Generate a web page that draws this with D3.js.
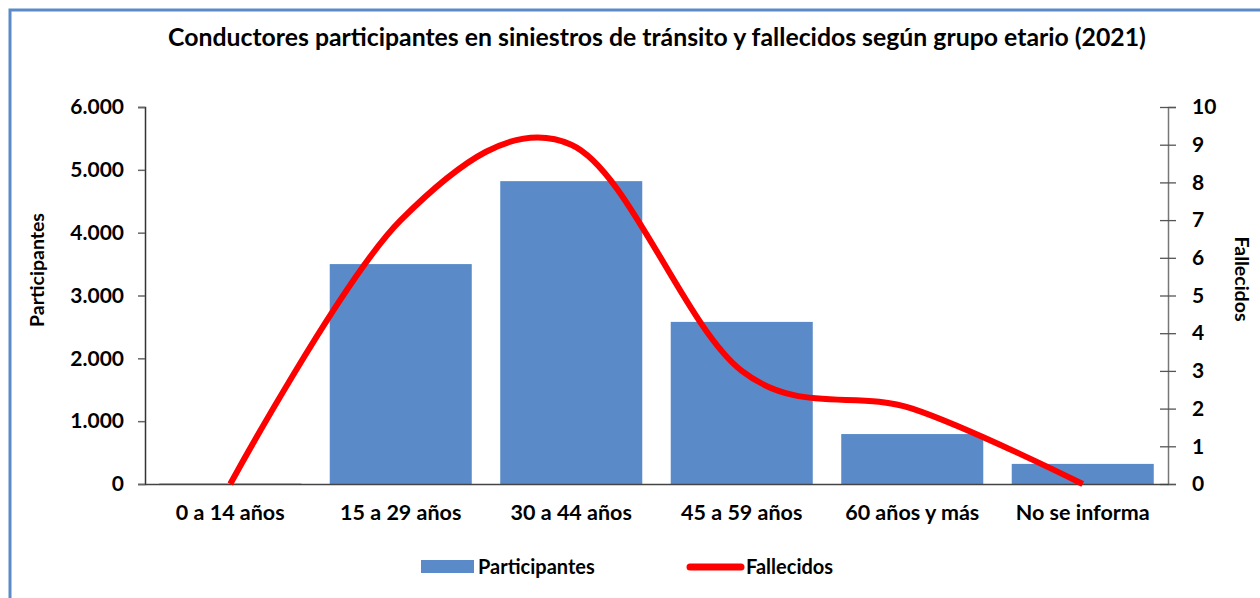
<!DOCTYPE html>
<html>
<head>
<meta charset="utf-8">
<script src="https://cdn.jsdelivr.net/npm/d3@7"></script>
<style>
  body { margin: 0; background: #fff; overflow: hidden; }
  svg { display: block; font-family: Lato, "Open Sans", sans-serif; }
</style>
</head>
<body>
<div id="chart"></div>
<script>
const categories = ['0 a 14 años', '15 a 29 años', '30 a 44 años', '45 a 59 años', '60 años y más', 'No se informa'];
const participantes = [8, 3500, 4820, 2580, 795, 320];
const fallecidos = [0, 7, 9, 3, 2, 0];
const leftTicks = [0, 1000, 2000, 3000, 4000, 5000, 6000];
const rightTicks = [0, 1, 2, 3, 4, 5, 6, 7, 8, 9, 10];

const width = 1260, height = 598;
const svg = d3.select('#chart').append('svg')
  .attr('width', width)
  .attr('height', height);

// outer frame, runs off the right and bottom edges
svg.append('rect')
  .attr('x', 10).attr('y', 10)
  .attr('width', 1300).attr('height', 700)
  .attr('fill', 'none')
  .attr('stroke', '#5B8BC7')
  .attr('stroke-width', 3);

svg.append('text')
  .attr('x', 657).attr('y', 46)
  .attr('text-anchor', 'middle')
  .attr('font-size', 24.8)
  .attr('font-weight', 'bold')
  .text('Conductores participantes en siniestros de tránsito y fallecidos según grupo etario (2021)');

const x = d3.scaleBand()
  .domain(categories)
  .range([145, 1168])
  .paddingInner(0.167)
  .paddingOuter(0.0835);

const yL = d3.scaleLinear().domain([0, 6000]).range([484, 107]);
const yR = d3.scaleLinear().domain([0, 10]).range([484, 107]);

// bars
svg.selectAll('rect.bar')
  .data(participantes)
  .enter().append('rect')
  .attr('class', 'bar')
  .attr('x', (d, i) => x(categories[i]))
  .attr('y', d => yL(d))
  .attr('width', x.bandwidth())
  .attr('height', d => yL(0) - yL(d))
  .attr('fill', '#5A8BC8');

// left axis
const fmt = d3.formatLocale({ decimal: ',', thousands: '.', grouping: [3] }).format(',');
const gl = svg.append('g')
  .attr('transform', 'translate(145,0)')
  .call(d3.axisLeft(yL).tickValues(leftTicks).tickFormat(fmt).tickSize(7).tickPadding(14));
gl.select('.domain').attr('stroke', '#333').attr('stroke-width', 1.5);
gl.selectAll('.tick line').attr('stroke', '#666').attr('stroke-width', 1.5);
gl.selectAll('text').attr('font-size', 21).attr('font-weight', 'bold').attr('fill', '#000')
  .attr('font-family', 'Lato, sans-serif');

// right axis
const gr = svg.append('g')
  .attr('transform', 'translate(1168,0)')
  .call(d3.axisRight(yR).tickValues(rightTicks).tickSize(8).tickPadding(16));
gr.select('.domain').attr('stroke', '#777').attr('stroke-width', 1.5);
gr.selectAll('.tick line').attr('x1', -8).attr('stroke', '#555').attr('stroke-width', 1.3);
gr.selectAll('text').attr('font-size', 21).attr('font-weight', 'bold').attr('fill', '#000')
  .attr('font-family', 'Lato, sans-serif');

// category axis
const gb = svg.append('g')
  .attr('transform', 'translate(0,484)')
  .call(d3.axisBottom(x).tickSize(0).tickPadding(21));
gb.select('.domain').attr('stroke', '#444').attr('stroke-width', 1.5);
gb.selectAll('text').attr('font-size', 21.5).attr('font-weight', 'bold').attr('fill', '#000')
  .attr('font-family', 'Lato, sans-serif');

// fallecidos line
const line = d3.line()
  .x((d, i) => x(categories[i]) + x.bandwidth() / 2)
  .y(d => yR(d))
  .curve(d3.curveCardinal.tension(0));
svg.append('path')
  .datum(fallecidos)
  .attr('d', line)
  .attr('fill', 'none')
  .attr('stroke', '#FF0000')
  .attr('stroke-width', 6);

// axis titles
svg.append('text')
  .attr('transform', 'translate(44,270) rotate(-90)')
  .attr('text-anchor', 'middle')
  .attr('font-size', 19.5).attr('font-weight', 'bold')
  .text('Participantes');
svg.append('text')
  .attr('transform', 'translate(1235,279) rotate(90)')
  .attr('text-anchor', 'middle')
  .attr('font-size', 19.5).attr('font-weight', 'bold')
  .text('Fallecidos');

// legend
const lg = svg.append('g');
lg.append('rect')
  .attr('x', 421).attr('y', 560)
  .attr('width', 53).attr('height', 13)
  .attr('fill', '#5A8BC8');
lg.append('text')
  .attr('x', 478).attr('y', 574)
  .attr('font-size', 20).attr('font-weight', 'bold')
  .text('Participantes');
lg.append('line')
  .attr('x1', 690).attr('x2', 741)
  .attr('y1', 567).attr('y2', 567)
  .attr('stroke', '#FF0000')
  .attr('stroke-width', 7)
  .attr('stroke-linecap', 'round');
lg.append('text')
  .attr('x', 746).attr('y', 574)
  .attr('font-size', 20).attr('font-weight', 'bold')
  .text('Fallecidos');
</script>
</body>
</html>
